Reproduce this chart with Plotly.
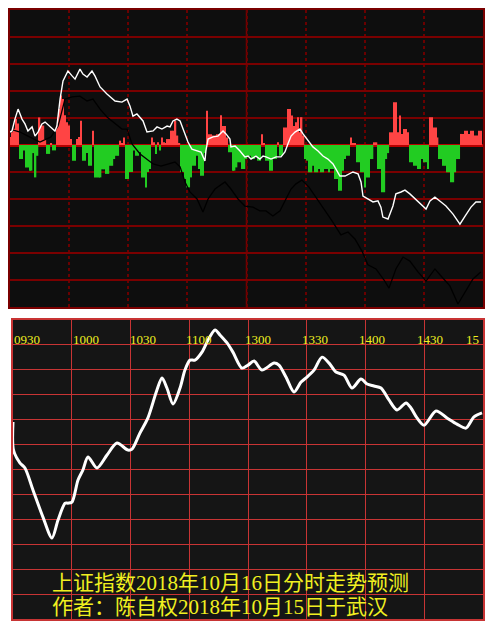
import plotly.graph_objects as go

# page is 494x630; the html body adds an 8px margin, so the figure itself is 8px smaller
PAGE_W, PAGE_H = 494, 630
OFF = 8
W, H = PAGE_W - OFF, PAGE_H - OFF

# ---------------- data ----------------
# top panel: one-minute buying/selling strength bars (positive red, negative green)
minutes_top = list(range(240))
flow = [
    0.3, 0.47, 0.6, 0.96, 0.8, -0.52, -0.52, -0.2, -0.83, -0.83,
    -0.95, -0.95, -0.3, -1.2, -0.4, 1.02, 0.72, 0.72, 0.22, -0.33,
    -0.33, 0.05, -0.2, -0.2, 0.72, 1.33, 1.83, 1.7, 1.1, 0.84,
    0.72, 0.22, -0.58, -0.58, 0.22, 0.3, 0.9, -0.58, -0.58, -0.3,
    -0.77, -0.77, 0.53, -1.2, -1.2,
    -1.2, -1.2, -0.9, -0.9, -1.07,
    -1.07, -0.77, -0.77, -0.52, -0.4,
    -0.4, 0.16, 0.05, 0.28, -1.26,
    -1.26, -1.0, -1.0, -0.2, -0.4,
    -0.4, -0.27, -1.2, -1.2, -1.57,
    -1.0, -0.89, 0.28, 0.1, -0.33,
    0.1, -0.2, 0.28, 0.1, 0.04,
    0.22, 0.22, 0.53, 0.53, 0.9,
    0.35, 0.05, -1.0, -1.0, -1.26,
    -1.57, -1.57, -1.2, -0.77, -0.77,
    -0.4, -0.89, -1.14, -1.14, -0.3,
    1.27, 0.4, 0.4, 0.35, 0.35,
    0.4, 0.4, 1.1, 0.7, 0.7,
    0.28, -0.27, -0.27, -0.95, -0.95,
    -0.83, -0.64, -0.64, -0.89, -0.89,
    -0.52, -0.4, -0.4, -0.52, -0.52,
    -0.4, -0.58, -0.58, 0.4, 0.05,
    -0.58, -0.58, -0.95, -0.95, -0.52,
    -0.52, 0.1, -0.4, -0.4, 0.65,
    0.65, 1.33, 1.33, 1.09, 0.7,
    0.84, 1.03, 0.47, 1.03, 0.35,
    -0.52, -0.58, -1.01, -1.01, -0.77,
    -1.01, -1.01, -0.89, -1.01, -1.01,
    -0.89, -0.89, -1.01, -0.89, -0.89,
    -1.26, -1.26, -1.69, -1.69, -0.95,
    -0.52, -0.4, -0.4, 0.28, 0.05,
    0.05, -0.64, -0.64, -1.01, -1.01,
    -1.57, -1.2, -1.2, -0.52, -0.52,
    0.1, 0.1, -0.89, -0.89, -1.75,
    -1.75, -0.52, -0.3, 0.47, 0.47,
    1.58, 1.58, 0.47, 1.09, 0.41,
    0.59, 0.59, 0.47, -0.64, -0.64,
    -0.77, -0.77, -0.89, -0.89, -0.52,
    -0.64, -0.64, -0.89, 1.03, 1.03,
    0.65, 0.65, 0.28, -0.52, -0.52,
    -0.77, -0.77, -1.01, -1.01, -1.38,
    -1.38, -1.01, -0.52, -0.52, 0.41,
    0.41, 0.53, 0.53, 0.41, 0.53,
    0.53, 0.35, 0.35, 0.53, 0.53,
]

# top panel: index line (white)
index_t = [0, 1.0, 2.5, 4.1, 5.1, 6.1, 7.6, 9.1, 11.2, 12.7, 14.2, 16.2, 17.8, 20.3, 22.8,
           23.8, 25.4, 26.9, 29.4, 31.5, 33.0, 35.5, 37.0, 39.1, 41.6, 43.1, 45.7, 49.2,
           53.3, 56.8, 59.4, 60.9, 62.4, 64.4, 67.5, 69.5, 72.6, 74.6, 77.1, 79.7, 81.2,
           82.7, 84.7, 86.3, 88.8, 90.3, 92.3, 94.9, 96.9, 98.9, 99.4, 100.5, 103.0, 105.5,
           108.1, 109.6, 111.6, 112.1, 114.2, 116.7, 119.2, 120.8, 122.3, 124.8, 126.8,
           128.4, 129.9, 132.4, 135.0, 137.5, 139.5, 141.0, 142.6, 144.6, 147.1, 148.7,
           151.2, 153.7, 156.3, 158.8, 161.3, 163.9, 165.4, 167.4, 170.0, 172.5, 174.0,
           176.6, 178.1, 179.1, 181.6, 184.2, 186.7, 188.2, 189.2, 191.8, 194.3, 195.8,
           198.4, 200.4, 202.9, 205.5, 208.5, 211.1, 213.1, 215.6, 218.7, 221.2, 224.8,
           228.3, 230.9, 233.9, 236.4, 239.0]
index_v = [0.48, 0.52, 0.96, 1.33, 1.15, 0.96, 0.78, 0.52, 0.67, 0.33, 0.48, 0.78, 0.85, 0.67,
           0.52, 0.70, 1.70, 2.37, 2.74, 2.56, 2.44, 2.81, 2.63, 2.52, 2.74, 2.56, 2.15, 1.89,
           1.63, 1.59, 1.70, 1.44, 1.07, 1.15, 0.89, 0.48, 0.52, 0.67, 0.59, 0.70, 0.67, 0.89,
           0.96, 0.89, 0.41, 0.11, -0.15, -0.22, -0.26, -0.59, -0.22, 0.22, 0.30, 0.33, 0.52,
           0.41, 0.22, -0.07, -0.04, -0.22, -0.44, -0.41, -0.52, -0.41, -0.52, -0.41, -0.44,
           -0.52, -0.44, -0.44, -0.26, 0.04, 0.33, 0.48, 0.59, 0.41, 0.15, -0.07, -0.22, -0.41,
           -0.52, -0.70, -0.89, -1.15, -1.15, -1.07, -1.00, -1.07, -1.37, -1.89, -2.00, -2.11,
           -2.07, -2.30, -2.67, -2.74, -2.26, -1.81, -1.74, -1.67, -1.81, -2.00, -2.19, -2.37,
           -2.07, -1.93, -2.11, -2.26, -2.56, -2.93, -2.63, -2.30, -2.11, -2.11]

# top panel: second line (black)
lead_t = [0, 5.1, 9.1, 15.2, 20.8, 24.4, 27.9, 31.5, 35.5, 39.1, 42.1, 45.7, 49.2, 53.3, 56.8,
          59.4, 61.9, 66.0, 72.6, 76.6, 81.2, 83.7, 86.3, 88.8, 91.3, 94.9, 97.9, 100.5, 104.0,
          109.1, 112.1, 115.7, 119.2, 123.3, 126.8, 129.9, 133.4, 137.0, 140.0, 142.6, 145.1,
          148.1, 151.7, 155.3, 159.3, 163.4, 167.9, 171.5, 175.0, 178.6, 181.6, 185.7, 189.8,
          192.3, 195.8, 199.4, 202.9, 207.0, 211.1, 215.6, 218.7, 223.2, 227.3, 231.4, 234.9,
          238.9]
lead_v = [0.59, 0.48, 0.33, 0.11, 0.30, 0.70, 1.70, 1.78, 1.81, 1.63, 1.70, 1.33, 1.04, 0.78,
          0.59, 0.59, 0.04, -0.33, -0.70, -0.78, -0.70, -0.63, -0.81, -1.37, -1.74, -2.00,
          -2.48, -2.00, -1.63, -1.37, -1.63, -2.00, -2.26, -2.30, -2.44, -2.44, -2.63, -2.44,
          -2.00, -1.63, -1.44, -1.30, -1.56, -1.93, -2.37, -2.81, -3.33, -3.22, -3.48, -3.93,
          -4.44, -4.59, -5.00, -5.30, -4.59, -4.15, -4.30, -4.70, -5.04, -4.59, -4.85, -5.22,
          -5.89, -5.41, -4.96, -4.70]

# bottom panel: forecast curve
fc_t = [0, 0.25, 3.6, 6.1, 10.2, 15.3, 19.9, 23.0, 26.6, 28.1, 30.1, 33.2, 35.7, 38.3, 42.9,
        48.0, 53.1, 58.7, 60.8, 64.8, 68.9, 73.5, 76.1, 78.6, 81.7, 85.3, 87.8, 90.4, 92.9,
        96.5, 99.6, 103.2, 105.7, 109.3, 112.3, 116.9, 120.0, 123.1, 127.1, 133.3, 135.8,
        139.4, 143.5, 147.1, 150.1, 153.7, 157.8, 161.4, 164.9, 169.0, 173.1, 177.7, 180.8,
        184.3, 187.9, 192.0, 196.1, 200.7, 203.2, 206.3, 209.9, 216.0, 221.6, 226.7, 231.3,
        235.4, 239.5]
fc_v = [7.91, 6.78, 6.26, 6.06, 5.18, 4.09, 3.25, 3.97, 4.65, 4.65, 4.69, 5.58, 5.98, 6.50,
        6.06, 6.58, 7.06, 6.78, 6.82, 7.46, 8.07, 9.19, 9.67, 9.27, 8.63, 9.27, 9.99, 10.39,
        10.39, 10.71, 11.20, 11.60, 11.40, 11.08, 10.71, 10.07, 10.19, 10.35, 9.99, 10.27,
        10.19, 9.71, 9.11, 9.51, 9.71, 9.99, 10.51, 10.27, 9.91, 9.79, 9.27, 9.63, 9.43, 9.35,
        9.27, 8.79, 8.39, 8.67, 8.47, 8.07, 7.78, 8.35, 8.07, 7.82, 7.66, 8.11, 8.27]

tick_labels = ["0930", "1000", "1030", "1100", "1300", "1330", "1400", "1430", "15"]
tick_label_pos = [0, 30, 59, 88, 118, 147, 176, 206, 231]

title_lines = ["上证指数2018年10月16日分时走势预测",
               "作者：陈自权2018年10月15日于武汉"]

# ---------------- figure ----------------
RED = "#ff4444"
GREEN = "#22cc22"
bar_colors = [RED if v >= 0 else GREEN for v in flow]

fig = go.Figure()
fig.add_trace(go.Bar(x=minutes_top, y=flow, marker=dict(color=bar_colors, line=dict(width=0)),
                     xaxis="x", yaxis="y", showlegend=False, hoverinfo="skip"))
fig.add_trace(go.Scatter(x=lead_t, y=lead_v, mode="lines", line=dict(color="#000000", width=1.3),
                         xaxis="x", yaxis="y", showlegend=False))
fig.add_trace(go.Scatter(x=index_t, y=index_v, mode="lines", line=dict(color="#ffffff", width=1.4),
                         xaxis="x", yaxis="y", showlegend=False))
fig.add_trace(go.Scatter(x=fc_t, y=fc_v, mode="lines",
                         line=dict(color="#ffffff", width=3, shape="spline", smoothing=0.8),
                         xaxis="x2", yaxis="y2", showlegend=False))


def dom_x(a, b):
    return [(a - OFF) / W, (b - OFF) / W]


def dom_y(top, bottom):
    return [1 - (bottom - OFF) / H, 1 - (top - OFF) / H]


TOP_GRID = "#7a0000"
BOT_GRID = "#c83434"

fig.update_layout(
    width=W, height=H,
    margin=dict(l=0, r=0, t=0, b=0),
    paper_bgcolor="#ffffff",
    plot_bgcolor="#0e0e0e",
    bargap=0.3,
    xaxis=dict(domain=dom_x(10, 483), range=[0, 240], tick0=0, dtick=30, showgrid=True,
               gridcolor="#6a0000", griddash="dot", gridwidth=1.5, zeroline=False,
               showticklabels=False, ticks="", showline=True, mirror=True,
               linecolor=TOP_GRID, linewidth=2, anchor="y"),
    yaxis=dict(domain=dom_y(10, 307), range=[-6, 5], tick0=0, dtick=1, showgrid=True,
               gridcolor=TOP_GRID, gridwidth=1.5, zeroline=True, zerolinecolor="#b80000",
               zerolinewidth=2.5, showticklabels=False, ticks="", showline=True, mirror=True,
               linecolor=TOP_GRID, linewidth=2, anchor="x"),
    xaxis2=dict(domain=dom_x(13, 483), range=[0, 240], tick0=0, dtick=30, showgrid=True,
                gridcolor=BOT_GRID, gridwidth=1, zeroline=False, showticklabels=False,
                ticks="", showline=True, mirror=True, linecolor=BOT_GRID, linewidth=1.5,
                anchor="y2"),
    yaxis2=dict(domain=dom_y(320, 619), range=[0, 12], tick0=0, dtick=1, showgrid=True,
                gridcolor=BOT_GRID, gridwidth=1, zeroline=False, showticklabels=False,
                ticks="", showline=True, mirror=True, linecolor=BOT_GRID, linewidth=1.5,
                anchor="x2"),
)

shapes = [
    dict(type="rect", xref="x2 domain", yref="y2 domain", x0=0, x1=1, y0=0, y1=1,
         fillcolor="#151515", line=dict(width=0), layer="below"),
    dict(type="line", xref="x", yref="y domain", x0=120, x1=120, y0=0, y1=1,
         line=dict(color=TOP_GRID, width=1.5), layer="below"),
]
fig.update_layout(shapes=shapes)

annotations = []
for lab, pos in zip(tick_labels, tick_label_pos):
    annotations.append(dict(x=pos, y=11.2, xref="x2", yref="y2", text=lab, showarrow=False,
                            xanchor="left", yanchor="middle", xshift=-1,
                            font=dict(family="Liberation Serif", size=13, color="#f0f020")))
title_y = [583, 607]
for line, yp in zip(title_lines, title_y):
    annotations.append(dict(x=(50 - OFF) / W, y=1 - (yp - OFF) / H, xref="paper", yref="paper",
                            text=line, showarrow=False, align="left",
                            xanchor="left", yanchor="middle",
                            font=dict(family="Liberation Serif, Noto Sans CJK SC", size=21,
                                      color="#f0f020")))
fig.update_layout(annotations=annotations)

fig.write_html("out.html")
